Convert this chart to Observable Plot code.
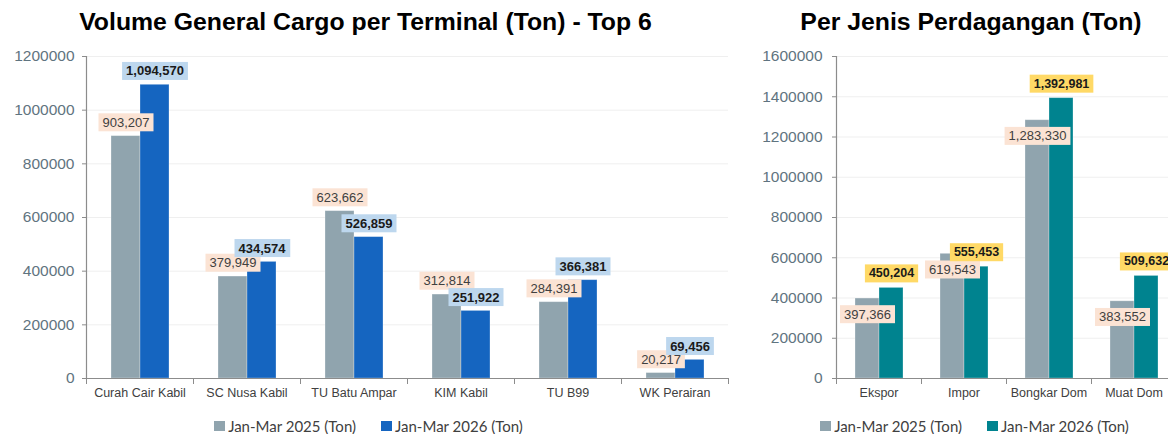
<!DOCTYPE html>
<html>
<head>
<meta charset="utf-8">
<script src="https://cdn.jsdelivr.net/npm/d3@7"></script>
<script src="https://cdn.jsdelivr.net/npm/@observablehq/plot@0.6"></script>
<style>
  html, body { margin: 0; padding: 0; background: #fff; overflow: hidden; }
  #root { position: relative; width: 1168px; height: 434px; overflow: hidden; font-family: "Liberation Sans", Arial, sans-serif; }
  .title { position: absolute; top: 0; height: 44px; line-height: 44px; font-weight: bold; font-size: 24.8px; text-align: center; color: #000; white-space: nowrap; }
  .chart { position: absolute; top: 45px; }
  .chart svg { max-width: none !important; }
  .legend { position: absolute; top: 416px; height: 20px; display: flex; justify-content: center; align-items: center; font-family: Lato, "Open Sans", sans-serif; font-size: 15px; color: #404040; white-space: nowrap; }
  .legend .item { display: flex; align-items: center; }
  .legend .item + .item { margin-left: 25px; }
  .legend .sw { width: 11px; height: 10px; margin-right: 3px; }
</style>
</head>
<body>
<div id="root">
  <div class="title" style="left:0;width:731px;">Volume General Cargo per Terminal (Ton) - Top 6</div>
  <div class="title" style="left:740px;width:462px;">Per Jenis Perdagangan (Ton)</div>
  <div class="chart" id="left" style="left:0;width:740px;"></div>
  <div class="chart" id="right" style="left:740px;width:440px;"></div>
  <div class="legend" id="legLeft" style="left:0;width:737px;"></div>
  <div class="legend" id="legRight" style="left:740px;width:469px;"></div>
</div>
<script>
// ---- Data ----
const seriesKeys = ["2025", "2026"];
const seriesNames = ["Jan-Mar 2025 (Ton)", "Jan-Mar 2026 (Ton)"];

const terminals = ["Curah Cair Kabil", "SC Nusa Kabil", "TU Batu Ampar", "KIM Kabil", "TU B99", "WK Perairan"];
const terminal2025 = [903207, 379949, 623662, 312814, 284391, 20217];
const terminal2026 = [1094570, 434574, 526859, 251922, 366381, 69456];
const terminalTicks = [0, 200000, 400000, 600000, 800000, 1000000, 1200000];

const tradeTypes = ["Ekspor", "Impor", "Bongkar Dom", "Muat Dom"];
const trade2025 = [397366, 619543, 1283330, 383552];
const trade2026 = [450204, 555453, 1392981, 509632];
const tradeTicks = [0, 200000, 400000, 600000, 800000, 1000000, 1200000, 1400000, 1600000];

// ---- Styles ----
const GRAY = "#90a4ae";
const BLUE = "#1565c0";
const TEAL = "#00838f";
const PEACH = "#fbe3d4";
const LIGHTBLUE = "#bdd7ee";
const YELLOW = "#ffd966";
const AXIS = "#8c8c8c";
const fmt = d3.format(",");

function makeChart(cfg) {
  const {cats, v25, v26, ticks, width, height, marginLeft, marginRight, color26, padOuter, dy25, dy26, tickPadding, fs26} = cfg;
  const rows = cats.flatMap((c, i) => [
    {cat: c, s: seriesKeys[0], v: v25[i]},
    {cat: c, s: seriesKeys[1], v: v26[i]}
  ]);
  const r25 = rows.filter(d => d.s === seriesKeys[0]);
  const r26 = rows.filter(d => d.s === seriesKeys[1]);
  const marginTop = 11, marginBottom = 27;
  const plotH = height - marginTop - marginBottom;
  return Plot.plot({
    width, height, marginLeft, marginRight, marginTop, marginBottom,
    style: {fontFamily: "'Liberation Sans', Arial, sans-serif", background: "transparent", overflow: "visible"},
    fx: {domain: cats, padding: 0, label: null},
    x: {domain: seriesKeys, paddingInner: 0, paddingOuter: padOuter, axis: null},
    y: {domain: [ticks[0], ticks[ticks.length - 1]], axis: null},
    color: {domain: seriesKeys, range: [GRAY, color26]},
    marks: [
      Plot.gridY(ticks, {stroke: "#efefef", strokeOpacity: 1}),
      Plot.barY(rows, {fx: "cat", x: "s", y: "v", fill: "s", stroke: "#ffffff", strokeOpacity: 0.35, strokeWidth: 0.8}),
      Plot.ruleY([0], {stroke: AXIS, strokeWidth: 1.2}),
      Plot.frame({anchor: "left", facetAnchor: "left", stroke: AXIS, strokeWidth: 1.2}),
      Plot.frame({anchor: "left", stroke: AXIS, insetTop: plotH, insetBottom: -5}),
      Plot.frame({anchor: "right", facetAnchor: "right", stroke: AXIS, insetTop: plotH, insetBottom: -5}),
      Plot.axisY(ticks, {tickSize: 4, tickPadding, tickFormat: d3.format("d"), fontSize: 15.5, stroke: AXIS, fill: "#5f7480", label: null}),
      Plot.axisFx({anchor: "bottom", tickSize: 0, tickPadding: 10, fontSize: 12.5, fill: "#404040", label: null}),
      Plot.text(r25, {fx: "cat", x: "s", y: "v", text: d => fmt(d.v), dy: dy25, lineAnchor: "middle", fontSize: 13, fill: "#404040", className: "lab25"}),
      Plot.text(r26, {fx: "cat", x: "s", y: "v", text: d => fmt(d.v), dy: dy26, lineAnchor: "middle", fontSize: fs26, fontWeight: "bold", fill: "#1a1a1a", className: "lab26"})
    ]
  });
}

function addBoxes(svg, cls, fill) {
  svg.querySelectorAll("." + cls + " text").forEach(t => {
    const b = t.getBBox();
    const r = document.createElementNS("http://www.w3.org/2000/svg", "rect");
    const h = 18;
    r.setAttribute("x", b.x - 4);
    r.setAttribute("y", b.y + b.height / 2 - h / 2);
    r.setAttribute("width", b.width + 8);
    r.setAttribute("height", h);
    r.setAttribute("fill", fill);
    const tr = t.getAttribute("transform");
    if (tr) r.setAttribute("transform", tr);
    t.parentNode.insertBefore(r, t);
  });
}

function makeLegend(el, colors) {
  seriesNames.forEach((name, i) => {
    const item = document.createElement("div");
    item.className = "item";
    const sw = document.createElement("div");
    sw.className = "sw";
    sw.style.background = colors[i];
    const tx = document.createElement("span");
    tx.textContent = name;
    item.appendChild(sw);
    item.appendChild(tx);
    el.appendChild(item);
  });
}

const left = makeChart({
  cats: terminals, v25: terminal2025, v26: terminal2026, ticks: terminalTicks,
  width: 740, height: 360, marginLeft: 83, marginRight: 10,
  color26: BLUE, padOuter: 0.79, dy25: -13.5, dy26: -13.5, tickPadding: 8, fs26: 13
});
document.getElementById("left").appendChild(left);
addBoxes(left, "lab25", PEACH);
addBoxes(left, "lab26", LIGHTBLUE);

const right = makeChart({
  cats: tradeTypes, v25: trade2025, v26: trade2026, ticks: tradeTicks,
  width: 440, height: 360, marginLeft: 96, marginRight: 4,
  color26: TEAL, padOuter: 0.75, dy25: 16, dy26: -14.5, tickPadding: 10, fs26: 12.5
});
document.getElementById("right").appendChild(right);
addBoxes(right, "lab25", PEACH);
addBoxes(right, "lab26", YELLOW);

makeLegend(document.getElementById("legLeft"), [GRAY, BLUE]);
makeLegend(document.getElementById("legRight"), [GRAY, TEAL]);
</script>
</body>
</html>
